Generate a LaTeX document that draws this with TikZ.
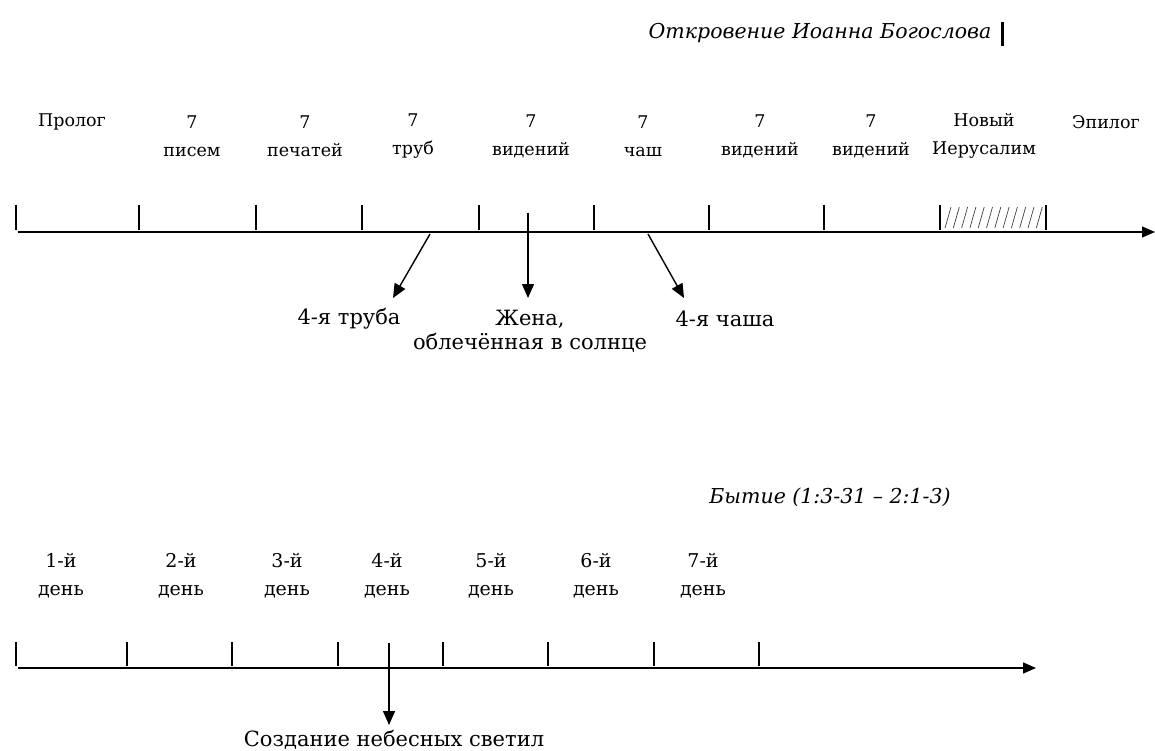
\documentclass[tikz,border=0pt]{standalone}
\usepackage{fontspec}
\setmainfont{DejaVu Serif}
\usetikzlibrary{arrows.meta}
\begin{document}
\begin{tikzpicture}[x=1pt,y=-1pt,
 lbl/.style={font=\fontsize{17.5}{28}\selectfont, inner sep=0pt, align=center},
 day/.style={font=\fontsize{19}{28}\selectfont, inner sep=0pt, align=center},
 big/.style={font=\fontsize{21}{24}\selectfont, inner sep=0pt, align=center},
 ttl/.style={font=\fontsize{20.5}{24}\selectfont\itshape, inner sep=0pt},
 axis/.style={line width=1.4pt, -{Triangle[length=13pt,width=11pt]}},
 tick/.style={line width=1.3pt},
 arr/.style={line width=1.4pt, -{Triangle[length=14pt,width=12pt]}}]
\useasboundingbox (0,0) rectangle (1155,751);

% ---------- top ----------
\node[ttl] (title) at (820,33) {Откровение Иоанна Богослова};
\draw[line width=3pt] (1002,22) -- (1002,46);

\node[lbl] (prol) at (72,122) {Пролог};
\node[lbl] (l1) at (192,136) {7\\писем};
\node[lbl] (l2) at (305,136) {7\\печатей};
\node[lbl] (l3) at (413,136) {7\\труб};
\node[lbl] (l4) at (531,136) {7\\видений};
\node[lbl] (l5) at (643,136) {7\\чаш};
\node[lbl] (l6) at (760,136) {7\\видений};
\node[lbl] (l7) at (871,136) {7\\видений};
\node[lbl] (l8) at (984,136) {Новый\\Иерусалим};
\node[lbl] (epil) at (1106,122) {Эпилог};

\coordinate (ts) at (18,232);
\coordinate (te) at (1155,232);
\draw[axis] (ts) -- (te);
\foreach \x in {16,139,256,362,479,594,709,824,940,1046}
  \draw[tick] (\x,205) -- (\x,230);
\foreach \i in {0,...,11}
  \draw[line width=0.7pt, black!75] ({945+\i*8.3},228) -- ({951+\i*8.3},207);

\coordinate (s1) at (430,234);
\coordinate (e1) at (393,298);
\coordinate (s2) at (528,213);
\coordinate (e2) at (528,298);
\coordinate (s3) at (648,234);
\coordinate (e3) at (684,298);
\draw[arr] (s1) -- (e1);
\draw[arr] (s2) -- (e2);
\draw[arr] (s3) -- (e3);

\node[big] (t1) at (349,319) {4-я труба};
\node[big] (t2) at (530,331) {Жена,\\облечённая в солнце};
\node[big] (t3) at (725,319) {4-я чаша};

% ---------- bottom ----------
\node[ttl] (title2) at (830,497) {Бытие (1:3-31 – 2:1-3)};

\node[day] (d1) at (61,576) {1-й\\день};
\node[day] (d2) at (181,576) {2-й\\день};
\node[day] (d3) at (287,576) {3-й\\день};
\node[day] (d4) at (387,576) {4-й\\день};
\node[day] (d5) at (491,576) {5-й\\день};
\node[day] (d6) at (596,576) {6-й\\день};
\node[day] (d7) at (703,576) {7-й\\день};

\coordinate (bs) at (18,668);
\coordinate (be) at (1036,668);
\draw[axis] (bs) -- (be);
\foreach \x in {16,127,232,338,443,548,654,759}
  \draw[tick] (\x,642) -- (\x,666);

\coordinate (s4) at (389,643);
\coordinate (e4) at (389,725);
\draw[arr] (s4) -- (e4);
\node[big] (cr) at (394,740) {Создание небесных светил};
\end{tikzpicture}
\end{document}
